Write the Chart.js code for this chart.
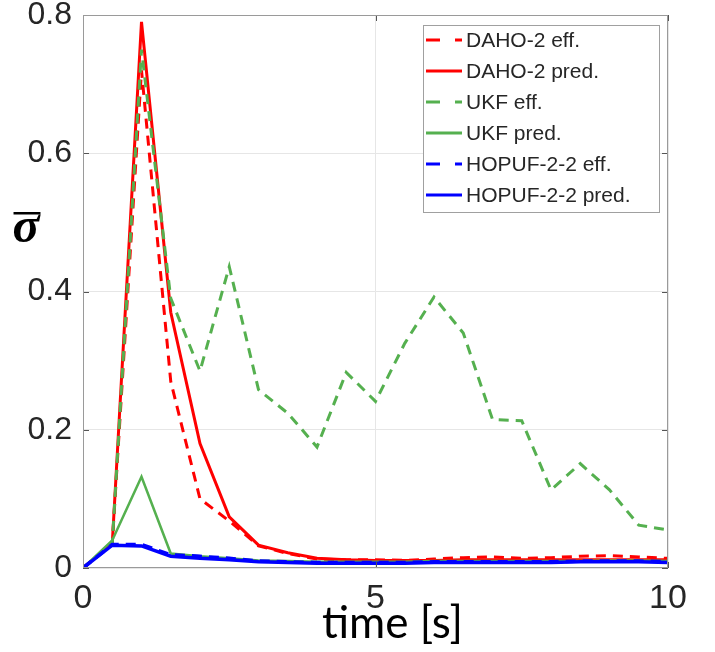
<!DOCTYPE html>
<html>
<head>
<meta charset="utf-8">
<script src="https://cdn.jsdelivr.net/npm/chart.js@4.4.0/dist/chart.umd.min.js"></script>
<style>
  html, body { margin: 0; padding: 0; background: #fff; }
</style>
</head>
<body>
<canvas id="sigmaChart" width="715" height="652"></canvas>
<script>
// Time samples [s]
const times = [0, 0.5, 1, 1.5, 2, 2.5, 3, 3.5, 4, 4.5, 5, 5.5, 6, 6.5, 7, 7.5, 8, 8.5, 9, 9.5, 10];

// Series values (sigma bar)
const dahoEff   = [0, 0.035, 0.72, 0.27, 0.10, 0.068, 0.032, 0.021, 0.013, 0.012, 0.012, 0.011, 0.013, 0.015, 0.016, 0.014, 0.015, 0.017, 0.018, 0.016, 0.014];
const dahoPred  = [0, 0.035, 0.79, 0.37, 0.18, 0.074, 0.033, 0.022, 0.014, 0.012, 0.011, 0.011, 0.011, 0.012, 0.012, 0.012, 0.012, 0.012, 0.012, 0.012, 0.012];
const ukfEff    = [0, 0.035, 0.75, 0.39, 0.285, 0.436, 0.258, 0.224, 0.175, 0.283, 0.241, 0.325, 0.392, 0.34, 0.215, 0.213, 0.113, 0.151, 0.113, 0.062, 0.055];
const ukfPred   = [0, 0.04, 0.132, 0.021, 0.017, 0.014, 0.011, 0.01, 0.009, 0.009, 0.009, 0.009, 0.01, 0.01, 0.01, 0.01, 0.01, 0.01, 0.011, 0.011, 0.01];
const hopufEff  = [0, 0.034, 0.034, 0.019, 0.017, 0.014, 0.01, 0.009, 0.008, 0.008, 0.008, 0.008, 0.009, 0.009, 0.009, 0.009, 0.009, 0.01, 0.01, 0.01, 0.009];
const hopufPred = [0, 0.033, 0.032, 0.017, 0.014, 0.012, 0.009, 0.008, 0.007, 0.007, 0.007, 0.007, 0.008, 0.008, 0.008, 0.008, 0.008, 0.009, 0.009, 0.009, 0.008];

// Labels
const seriesLabels = ['DAHO-2 eff.', 'DAHO-2 pred.', 'UKF eff.', 'UKF pred.', 'HOPUF-2-2 eff.', 'HOPUF-2-2 pred.'];
const xTitle = 'time [s]';
const yTitle = 'σ';

const RED = '#ff0000';
const GREEN = '#55b04f';
const BLUE = '#0000ff';
const DASH = [10, 7];

function pts(values) {
    return values.map((v, i) => ({ x: times[i], y: v }));
}

function line(label, values, color, dashed, width, order) {
    return {
        label: label,
        data: pts(values),
        borderColor: color,
        backgroundColor: color,
        borderWidth: width,
        borderDash: dashed ? DASH : [],
        pointRadius: 0,
        tension: 0,
        fill: false,
        order: order
    };
}

// Axes frame, inside ticks, legend box and axis labels (MATLAB look)
const matlabFrame = {
    id: 'matlabFrame',
    afterDatasetsDraw(chart) {
        const { ctx, chartArea: a, scales: { x, y } } = chart;
        ctx.save();

        // inside tick marks on all four sides
        ctx.strokeStyle = '#555555';
        ctx.lineWidth = 1;
        ctx.beginPath();
        y.ticks.forEach(t => {
            const py = Math.round(y.getPixelForValue(t.value)) + 0.5;
            ctx.moveTo(a.left, py); ctx.lineTo(a.left + 6, py);
            ctx.moveTo(a.right, py); ctx.lineTo(a.right - 6, py);
        });
        x.ticks.forEach(t => {
            const px = Math.round(x.getPixelForValue(t.value)) + 0.5;
            ctx.moveTo(px, a.bottom); ctx.lineTo(px, a.bottom - 6);
            ctx.moveTo(px, a.top); ctx.lineTo(px, a.top + 6);
        });
        ctx.stroke();

        // box
        ctx.strokeStyle = '#9a9a9a';
        ctx.strokeRect(a.left + 0.5, a.top + 0.5, a.width - 1, a.height - 1);

        // legend
        const lw = 236, rowH = 31;
        const lx = a.right - 9 - lw, ly = a.top + 10;
        const lh = rowH * chart.data.datasets.length + 1;
        ctx.fillStyle = '#ffffff';
        ctx.fillRect(lx, ly, lw, lh);
        ctx.strokeStyle = '#a0a0a0';
        ctx.strokeRect(lx + 0.5, ly + 0.5, lw, lh);
        ctx.font = '21px "Liberation Sans", Arial, sans-serif';
        ctx.textBaseline = 'middle';
        ctx.textAlign = 'left';
        chart.data.datasets.forEach((ds, i) => {
            const cy = ly + 15 + i * rowH;
            ctx.strokeStyle = ds.borderColor;
            ctx.lineWidth = 3;
            ctx.setLineDash(ds.borderDash.length ? [14, 15] : []);
            ctx.beginPath();
            ctx.moveTo(lx + 3, cy);
            ctx.lineTo(lx + 39, cy);
            ctx.stroke();
            ctx.setLineDash([]);
            ctx.fillStyle = '#262626';
            ctx.fillText(ds.label, lx + 43, cy + 1);
        });

        // x axis title
        ctx.fillStyle = '#000000';
        ctx.font = '44px Lato, "Open Sans", sans-serif';
        ctx.textAlign = 'center';
        ctx.textBaseline = 'alphabetic';
        ctx.fillText(xTitle, (a.left + a.right) / 2 + 17, 638);

        // y axis title: sigma with overline
        ctx.font = 'italic bold 50px "Liberation Serif", serif';
        ctx.fillText(yTitle, 26, 242);
        const w = ctx.measureText(yTitle).width;
        ctx.fillRect(26 - w / 2 + 1, 212, w, 2.5);

        ctx.restore();
    }
};

const ctx = document.getElementById('sigmaChart').getContext('2d');

const chart = new Chart(ctx, {
    type: 'line',
    data: {
        datasets: [
            line(seriesLabels[0], dahoEff, RED, true, 3, 6),
            line(seriesLabels[1], dahoPred, RED, false, 3, 5),
            line(seriesLabels[2], ukfEff, GREEN, true, 3, 4),
            line(seriesLabels[3], ukfPred, GREEN, false, 2.5, 3),
            line(seriesLabels[4], hopufEff, BLUE, true, 3.5, 2),
            line(seriesLabels[5], hopufPred, BLUE, false, 3.5, 1)
        ]
    },
    options: {
        responsive: false,
        animation: false,
        layout: {
            padding: { top: 15, right: 47, left: 0, bottom: 0 }
        },
        plugins: {
            legend: { display: false },
            tooltip: { enabled: false }
        },
        scales: {
            x: {
                type: 'linear',
                min: 0,
                max: 10,
                ticks: {
                    stepSize: 5,
                    padding: 10,
                    color: '#262626',
                    font: { family: '"Liberation Sans", Arial, sans-serif', size: 34 }
                },
                grid: { color: '#e6e6e6', drawTicks: false },
                border: { display: false },
                afterFit(scale) {
                    scale.height = 84;
                    scale.paddingLeft = 0;
                    scale.paddingRight = 0;
                }
            },
            y: {
                min: 0,
                max: 0.8,
                ticks: {
                    stepSize: 0.2,
                    padding: 11,
                    color: '#262626',
                    font: { family: '"Liberation Sans", Arial, sans-serif', size: 32 }
                },
                grid: { color: '#e6e6e6', drawTicks: false },
                border: { display: false },
                afterFit(scale) {
                    scale.width = 83;
                    scale.paddingTop = 0;
                    scale.paddingBottom = 0;
                }
            }
        }
    },
    plugins: [matlabFrame]
});
</script>
</body>
</html>
